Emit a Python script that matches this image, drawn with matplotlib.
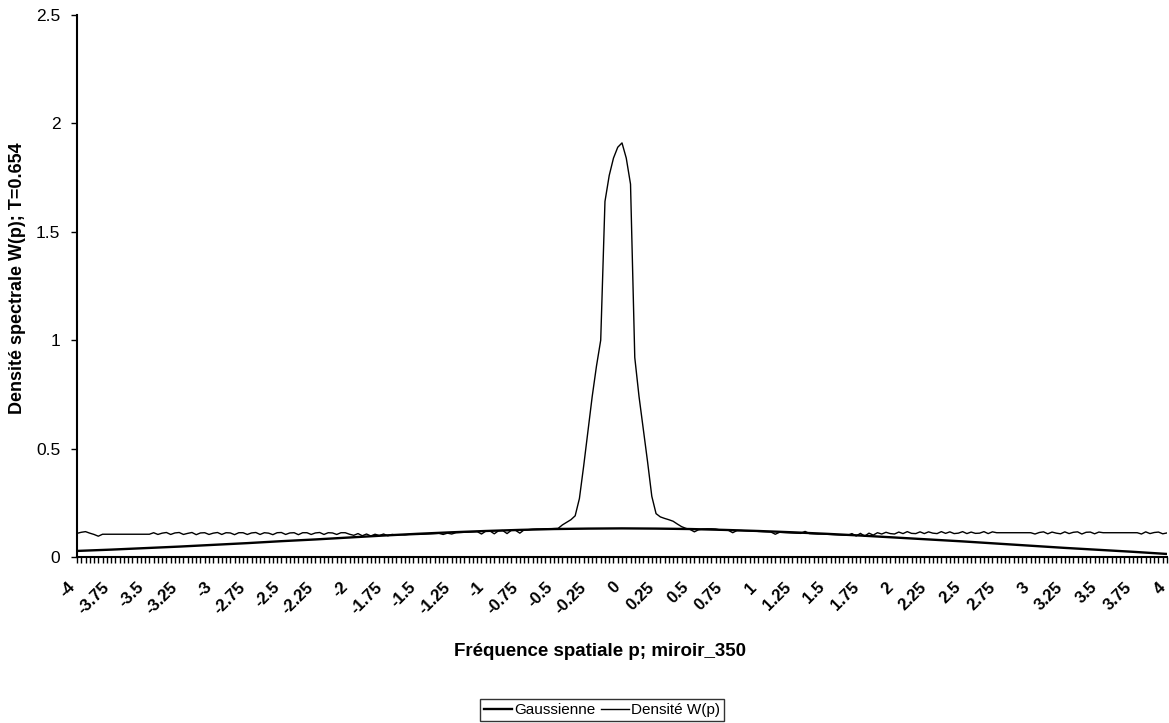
import numpy as np
import matplotlib
matplotlib.use("Agg")
import matplotlib.pyplot as plt
from matplotlib.ticker import MultipleLocator, FixedLocator
import matplotlib.transforms as mtransforms

plt.rcParams['font.family'] = ['Liberation Sans', 'DejaVu Sans']

# ---- data ----
# spatial frequency grid: -4 .. 4, 257 categories (step 1/32)
p_start, p_stop, n_pts = -4.0, 4.0, 257

# Gaussian curve, read at every 0.25
gauss_p = [-4, -3.75, -3.5, -3.25, -3, -2.75, -2.5, -2.25, -2, -1.75, -1.5, -1.25, -1,
           -0.75, -0.5, -0.25, 0, 0.25, 0.5, 0.75, 1, 1.25, 1.5, 1.75, 2, 2.25, 2.5,
           2.75, 3, 3.25, 3.5, 3.75, 4]
gauss_w = [0.028, 0.034, 0.041, 0.048, 0.056, 0.064, 0.073, 0.081, 0.090, 0.099, 0.107,
           0.114, 0.120, 0.125, 0.129, 0.131, 0.132, 0.131, 0.129, 0.125, 0.120, 0.114,
           0.107, 0.099, 0.090, 0.081, 0.072, 0.062, 0.052, 0.042, 0.033, 0.024, 0.014]

# spectral density W(p), one row per 0.25 interval (8 points each) + final point
density_w = [
    0.109, 0.114, 0.117, 0.110, 0.104, 0.096, 0.105, 0.105,
    0.105, 0.105, 0.105, 0.105, 0.105, 0.105, 0.105, 0.105,
    0.105, 0.105, 0.112, 0.104, 0.110, 0.113, 0.104, 0.111,
    0.113, 0.104, 0.109, 0.113, 0.103, 0.111, 0.112, 0.104,
    0.110, 0.113, 0.104, 0.112, 0.111, 0.103, 0.112, 0.112,
    0.104, 0.111, 0.113, 0.104, 0.112, 0.110, 0.103, 0.112,
    0.113, 0.104, 0.111, 0.112, 0.103, 0.112, 0.112, 0.104,
    0.111, 0.113, 0.104, 0.112, 0.111, 0.104, 0.112, 0.112,
    0.105, 0.100, 0.108, 0.098, 0.106, 0.097, 0.105, 0.099,
    0.106, 0.098, 0.104, 0.101, 0.103, 0.102, 0.104, 0.104,
    0.104, 0.105, 0.106, 0.107, 0.108, 0.109, 0.104, 0.110,
    0.106, 0.112, 0.113, 0.114, 0.115, 0.116, 0.117, 0.106,
    0.119, 0.120, 0.107, 0.121, 0.122, 0.108, 0.123, 0.123,
    0.110, 0.125, 0.126, 0.128, 0.129, 0.129, 0.130, 0.130,
    0.131, 0.132, 0.148, 0.160, 0.172, 0.190, 0.270, 0.420,
    0.580, 0.740, 0.880, 1.000, 1.640, 1.760, 1.840, 1.890,
    1.910, 1.840, 1.720, 0.920, 0.740, 0.590, 0.440, 0.280,
    0.200, 0.185, 0.178, 0.172, 0.165, 0.152, 0.140, 0.132,
    0.127, 0.116, 0.126, 0.129, 0.130, 0.130, 0.129, 0.125,
    0.124, 0.123, 0.112, 0.122, 0.122, 0.121, 0.120, 0.120,
    0.118, 0.117, 0.116, 0.115, 0.105, 0.114, 0.113, 0.112,
    0.111, 0.110, 0.109, 0.118, 0.108, 0.107, 0.106, 0.106,
    0.105, 0.104, 0.103, 0.102, 0.101, 0.100, 0.108, 0.097,
    0.109, 0.096, 0.110, 0.101, 0.112, 0.106, 0.114, 0.108,
    0.106, 0.115, 0.108, 0.117, 0.109, 0.108, 0.116, 0.108,
    0.116, 0.110, 0.108, 0.117, 0.109, 0.116, 0.108, 0.110,
    0.117, 0.108, 0.115, 0.109, 0.110, 0.117, 0.108, 0.116,
    0.112, 0.112, 0.112, 0.112, 0.112, 0.112, 0.112, 0.112,
    0.112, 0.106, 0.113, 0.116, 0.107, 0.115, 0.110, 0.107,
    0.116, 0.108, 0.114, 0.116, 0.106, 0.114, 0.115, 0.107,
    0.115, 0.112, 0.112, 0.112, 0.112, 0.112, 0.112, 0.112,
    0.112, 0.112, 0.106, 0.116, 0.108, 0.113, 0.115, 0.107,
    0.111,
]

x_labels = ['-4', '-3.75', '-3.5', '-3.25', '-3', '-2.75', '-2.5', '-2.25', '-2', '-1.75',
            '-1.5', '-1.25', '-1', '-0.75', '-0.5', '-0.25', '0', '0.25', '0.5', '0.75',
            '1', '1.25', '1.5', '1.75', '2', '2.25', '2.5', '2.75', '3', '3.25', '3.5',
            '3.75', '4']
y_ticks = [0, 0.5, 1, 1.5, 2, 2.5]
y_labels = ['0', '0.5', '1', '1.5', '2', '2.5']

x_title = 'Fréquence spatiale p; miroir_350'
y_title = 'Densité spectrale W(p); T=0.654'
legend_labels = ['Gaussienne', 'Densité W(p)']

# ---- figure ----
W, H = 1169, 723
fig = plt.figure(figsize=(W / 100, H / 100), dpi=100)
ax = fig.add_axes([77 / W, (H - 557) / H, (1167 - 77) / W, (557 - 15) / H])

p_grid = np.linspace(p_start, p_stop, n_pts)
l1, = ax.plot(gauss_p, gauss_w, color='black', lw=1.7, solid_joinstyle='round')
l2, = ax.plot(p_grid, density_w, color='black', lw=1.0, solid_joinstyle='round')

ax.set_xlim(p_start, p_stop)
ax.set_ylim(0, 2.5)

for s in ['top', 'right']:
    ax.spines[s].set_visible(False)
for s in ['left', 'bottom']:
    ax.spines[s].set_linewidth(1.5)
    ax.spines[s].set_color('black')

ax.set_yticks(y_ticks)
ax.set_yticklabels(y_labels, fontsize=12.5)
ax.tick_params(axis='y', direction='out', length=4, width=1, pad=8)

ax.xaxis.set_major_locator(FixedLocator(gauss_p))
ax.set_xticklabels(x_labels, rotation=45, ha='right', va='center',
                   rotation_mode='anchor', fontsize=12, fontweight='bold')
ax.xaxis.set_minor_locator(MultipleLocator(1 / 32))
ax.tick_params(axis='x', which='both', direction='out', length=4, width=1)
ax.tick_params(axis='x', which='major', pad=16)
offset = mtransforms.ScaledTranslation(-4 / 100, 0, fig.dpi_scale_trans)
for lab in ax.get_xticklabels():
    lab.set_transform(lab.get_transform() + offset)

fig.text(600 / W, 1 - 652 / H, x_title, ha='center', va='center',
         fontsize=13.5, fontweight='bold')
fig.text(18 / W, 1 - 278 / H, y_title, ha='center', va='center', rotation=90,
         fontsize=13, fontweight='bold')

leg = fig.legend([l1, l2], legend_labels, loc='lower center',
                 bbox_to_anchor=(602 / W, 2 / H), ncol=2, frameon=True,
                 fancybox=False, edgecolor='black', fontsize=11,
                 handlelength=1.8, handletextpad=0.15, columnspacing=0.4,
                 borderpad=0.25, borderaxespad=0)
leg.get_frame().set_linewidth(1.0)

fig.savefig('out.png', dpi=100)
